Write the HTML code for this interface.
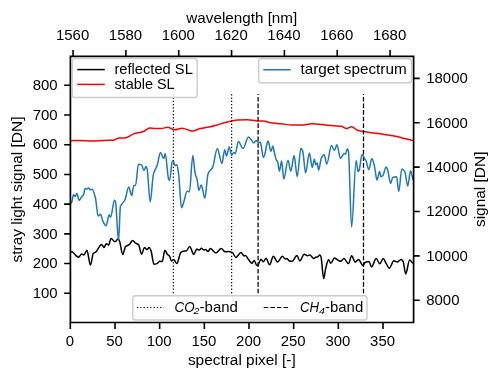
<!DOCTYPE html>
<html><head><meta charset="utf-8"><style>
html,body{margin:0;padding:0;background:#fff;width:500px;height:382px;overflow:hidden}
svg{display:block;will-change:transform}
text{font-family:"Liberation Sans", sans-serif;fill:#000}
</style></head><body>
<svg width="500" height="382" viewBox="0 0 500 382">
<rect width="500" height="382" fill="#fff"/>

<defs><clipPath id="ax"><rect x="70.0" y="55.8" width="343.7" height="266.5"/></clipPath></defs>
<g clip-path="url(#ax)" fill="none" stroke-linejoin="round" stroke-linecap="butt">
<path d="M70.70,140.70 C74.00,140.60 77.30,140.40 80.60,140.40 C84.50,140.40 88.40,141.10 92.30,141.10 C96.20,141.10 100.10,140.52 104.00,140.40 C107.00,140.30 110.00,140.33 113.00,140.20 C115.10,140.11 117.20,137.90 119.30,137.90 C121.10,137.90 122.90,138.00 124.70,138.00 C127.70,138.00 130.70,134.85 133.70,133.90 C136.70,132.95 139.70,132.70 142.70,131.70 C145.10,130.90 147.50,128.10 149.90,128.10 C151.60,128.10 153.30,128.50 155.00,128.50 C157.10,128.50 159.20,128.50 161.30,128.50 C163.40,128.50 165.50,127.30 167.60,127.30 C170.00,127.30 172.40,129.80 174.80,129.80 C177.20,129.80 179.60,128.20 182.00,128.20 C185.60,128.20 189.20,131.10 192.80,131.10 C195.20,131.10 197.60,129.03 200.00,128.50 C203.00,127.84 206.00,127.68 209.00,127.10 C211.40,126.64 213.80,125.97 216.20,125.30 C218.60,124.63 221.00,123.67 223.40,123.00 C225.80,122.33 228.20,121.70 230.60,121.20 C233.00,120.70 235.40,119.99 237.80,119.90 C240.93,119.78 244.07,119.70 247.20,119.70 C250.80,119.70 254.40,121.00 258.00,121.00 C259.80,121.00 261.60,121.00 263.40,121.00 C265.80,121.00 268.20,122.47 270.60,122.80 C274.20,123.30 277.80,123.42 281.40,123.80 C285.00,124.18 288.60,125.10 292.20,125.10 C295.20,125.10 298.20,125.10 301.20,125.10 C304.80,125.10 308.40,123.80 312.00,123.80 C314.40,123.80 316.80,124.01 319.20,124.20 C321.13,124.35 323.07,124.69 325.00,124.90 C328.00,125.23 331.00,125.56 334.00,125.80 C336.40,126.00 338.80,126.01 341.20,126.30 C343.00,126.52 344.80,128.50 346.60,128.50 C348.27,128.50 349.93,126.70 351.60,126.70 C353.53,126.70 355.47,129.70 357.40,130.30 C359.50,130.95 361.60,131.24 363.70,131.60 C367.00,132.16 370.30,132.55 373.60,133.00 C377.20,133.49 380.80,133.87 384.40,134.40 C388.60,135.02 392.80,135.72 397.00,136.60 C399.40,137.10 401.80,137.81 404.20,138.40 C407.20,139.14 410.20,139.87 413.20,140.60" stroke="#ff0000" stroke-width="1.5"/>
<path d="M70.60,251.50 C71.30,251.70 72.00,251.79 72.70,252.10 C73.70,252.54 74.70,254.49 75.70,255.30 C76.67,256.08 77.63,257.20 78.60,257.20 C79.60,257.20 80.60,253.90 81.60,253.90 C82.37,253.90 83.13,255.00 83.90,255.00 C84.90,255.00 85.90,250.30 86.90,250.30 C88.07,250.30 89.23,265.10 90.40,265.10 C91.40,265.10 92.40,254.19 93.40,253.30 C94.17,252.62 94.93,252.64 95.70,252.10 C97.67,250.72 99.63,244.40 101.60,244.40 C102.40,244.40 103.20,247.40 104.00,247.40 C104.77,247.40 105.53,243.80 106.30,243.80 C107.10,243.80 107.90,245.00 108.70,245.00 C109.47,245.00 110.23,238.50 111.00,238.50 C112.33,238.50 113.67,241.80 115.00,241.80 C116.10,241.80 117.20,238.80 118.30,238.80 C118.77,238.80 119.23,240.52 119.70,241.80 C120.70,244.54 121.70,254.50 122.70,254.50 C123.67,254.50 124.63,247.34 125.60,246.50 C126.80,245.46 128.00,245.54 129.20,244.70 C130.37,243.88 131.53,240.60 132.70,240.60 C133.67,240.60 134.63,242.58 135.60,243.20 C136.60,243.84 137.60,243.83 138.60,244.70 C139.57,245.54 140.53,254.20 141.50,254.20 C142.50,254.20 143.50,247.50 144.50,247.50 C145.27,247.50 146.03,249.50 146.80,249.50 C147.60,249.50 148.40,247.50 149.20,247.50 C149.80,247.50 150.40,249.14 151.00,250.60 C151.97,252.95 152.93,264.20 153.90,264.20 C154.90,264.20 155.90,263.92 156.90,263.60 C157.87,263.29 158.83,261.30 159.80,261.30 C160.60,261.30 161.40,261.60 162.20,261.60 C163.10,261.60 164.00,250.30 164.90,250.30 C165.70,250.30 166.50,253.24 167.30,254.20 C168.10,255.16 168.90,255.35 169.70,256.50 C170.27,257.31 170.83,260.90 171.40,260.90 C172.20,260.90 173.00,259.50 173.80,259.50 C174.77,259.50 175.73,263.60 176.70,263.60 C178.10,263.60 179.50,253.55 180.90,252.40 C181.67,251.77 182.43,251.29 183.20,251.20 C184.20,251.08 185.20,251.12 186.20,251.00 C187.37,250.86 188.53,246.50 189.70,246.50 C191.07,246.50 192.43,254.50 193.80,254.50 C194.80,254.50 195.80,249.10 196.80,249.10 C197.57,249.10 198.33,250.00 199.10,250.00 C199.90,250.00 200.70,248.30 201.50,248.30 C202.30,248.30 203.10,250.00 203.90,250.00 C204.47,250.00 205.03,249.50 205.60,249.50 C206.40,249.50 207.20,251.50 208.00,251.50 C208.77,251.50 209.53,248.60 210.30,248.60 C212.17,248.60 214.03,253.00 215.90,253.00 C217.67,253.00 219.43,248.60 221.20,248.60 C222.57,248.60 223.93,251.80 225.30,251.80 C226.30,251.80 227.30,251.50 228.30,251.50 C229.67,251.50 231.03,251.98 232.40,252.60 C233.57,253.13 234.73,257.40 235.90,257.40 C237.57,257.40 239.23,252.60 240.90,252.60 C242.00,252.60 243.10,255.90 244.20,255.90 C244.60,255.90 245.00,255.40 245.40,255.40 C246.57,255.40 247.73,258.72 248.90,260.10 C249.90,261.29 250.90,263.30 251.90,263.30 C252.67,263.30 253.43,260.40 254.20,260.40 C255.00,260.40 255.80,264.77 256.60,265.10 C257.00,265.26 257.40,265.40 257.80,265.40 C258.83,265.40 259.87,259.20 260.90,259.20 C261.70,259.20 262.50,261.80 263.30,261.80 C264.20,261.80 265.10,258.30 266.00,258.30 C267.20,258.30 268.40,264.80 269.60,264.80 C270.83,264.80 272.07,256.20 273.30,256.20 C274.70,256.20 276.10,262.10 277.50,262.10 C279.17,262.10 280.83,256.20 282.50,256.20 C283.37,256.20 284.23,258.90 285.10,258.90 C285.70,258.90 286.30,258.50 286.90,258.50 C287.70,258.50 288.50,260.70 289.30,260.90 C290.27,261.14 291.23,261.30 292.20,261.30 C293.77,261.30 295.33,255.40 296.90,255.40 C297.90,255.40 298.90,260.90 299.90,260.90 C301.33,260.90 302.77,254.20 304.20,254.20 C305.27,254.20 306.33,255.70 307.40,255.70 C308.17,255.70 308.93,255.00 309.70,255.00 C311.07,255.00 312.43,258.50 313.80,258.50 C314.60,258.50 315.40,256.90 316.20,256.90 C316.60,256.90 317.00,256.90 317.40,256.90 C318.20,256.90 319.00,255.00 319.80,255.00 C320.17,255.00 320.53,255.73 320.90,256.50 C321.83,258.47 322.77,278.60 323.70,278.60 C324.33,278.60 324.97,271.42 325.60,268.90 C326.57,265.05 327.53,259.70 328.50,259.70 C329.27,259.70 330.03,263.20 330.80,263.20 C332.00,263.20 333.20,258.10 334.40,258.10 C335.57,258.10 336.73,259.56 337.90,260.10 C338.93,260.58 339.97,261.30 341.00,261.30 C341.97,261.30 342.93,258.50 343.90,258.50 C345.47,258.50 347.03,263.60 348.60,263.60 C349.60,263.60 350.60,255.70 351.60,255.70 C352.83,255.70 354.07,262.10 355.30,262.10 C356.37,262.10 357.43,259.50 358.50,259.50 C360.03,259.50 361.57,265.60 363.10,265.60 C363.77,265.60 364.43,262.84 365.10,262.50 C366.40,261.83 367.70,261.40 369.00,261.40 C369.87,261.40 370.73,266.90 371.60,266.90 C373.13,266.90 374.67,258.60 376.20,258.60 C377.40,258.60 378.60,263.80 379.80,263.80 C380.93,263.80 382.07,258.60 383.20,258.60 C384.17,258.60 385.13,261.88 386.10,263.40 C387.17,265.08 388.23,268.20 389.30,268.20 C390.83,268.20 392.37,260.80 393.90,260.80 C395.00,260.80 396.10,262.10 397.20,262.10 C398.50,262.10 399.80,259.50 401.10,259.50 C401.77,259.50 402.43,260.37 403.10,261.40 C403.97,262.74 404.83,273.90 405.70,273.90 C407.00,273.90 408.30,260.10 409.60,260.10 C410.70,260.10 411.80,262.30 412.90,263.40" stroke="#000" stroke-width="1.5"/>
</g>
<line x1="173.4" y1="94.13" x2="173.4" y2="295.7" stroke="#000" stroke-width="1.25" stroke-dasharray="1.25 2.046"/>
<line x1="231.6" y1="94.13" x2="231.6" y2="295.7" stroke="#000" stroke-width="1.25" stroke-dasharray="1.25 2.046"/>
<line x1="258.1" y1="94.0" x2="258.1" y2="295.7" stroke="#000" stroke-width="1.25" stroke-dasharray="4.625 1.99" stroke-dashoffset="3.725"/>
<line x1="363.5" y1="94.0" x2="363.5" y2="295.7" stroke="#000" stroke-width="1.25" stroke-dasharray="4.625 1.99" stroke-dashoffset="3.725"/>
<g clip-path="url(#ax)" fill="none" stroke-linejoin="round">
<path d="M70.60,203.60 C70.97,203.17 71.33,202.95 71.70,202.30 C72.30,201.24 72.90,194.70 73.50,194.70 C74.07,194.70 74.63,196.40 75.20,196.40 C75.77,196.40 76.33,193.40 76.90,193.40 C77.63,193.40 78.37,200.30 79.10,200.30 C79.77,200.30 80.43,198.56 81.10,197.70 C81.97,196.59 82.83,196.23 83.70,194.40 C84.13,193.48 84.57,188.50 85.00,188.50 C85.67,188.50 86.33,188.90 87.00,188.90 C87.57,188.90 88.13,187.90 88.70,187.90 C89.23,187.90 89.77,189.80 90.30,189.80 C90.93,189.80 91.57,189.20 92.20,189.20 C93.30,189.20 94.40,193.91 95.50,198.30 C96.37,201.76 97.23,216.00 98.10,216.00 C98.90,216.00 99.70,214.30 100.50,214.30 C101.23,214.30 101.97,219.08 102.70,220.60 C103.80,222.88 104.90,225.80 106.00,225.80 C107.07,225.80 108.13,214.70 109.20,214.70 C109.63,214.70 110.07,217.30 110.50,217.30 C111.83,217.30 113.17,200.30 114.50,200.30 C114.80,200.30 115.10,200.93 115.40,201.60 C116.47,204.00 117.53,240.30 118.60,240.30 C119.20,240.30 119.80,208.32 120.40,206.60 C120.90,205.16 121.40,204.97 121.90,204.20 C122.97,202.56 124.03,201.68 125.10,199.50 C126.30,197.04 127.50,187.00 128.70,187.00 C129.73,187.00 130.77,195.60 131.80,195.60 C132.43,195.60 133.07,185.40 133.70,185.40 C134.33,185.40 134.97,185.40 135.60,185.40 C136.53,185.40 137.47,164.20 138.40,164.20 C139.47,164.20 140.53,164.45 141.60,164.90 C142.37,165.22 143.13,170.40 143.90,170.40 C144.60,170.40 145.30,166.50 146.00,166.50 C146.37,166.50 146.73,167.70 147.10,168.90 C148.13,172.29 149.17,201.90 150.20,201.90 C151.27,201.90 152.33,178.52 153.40,174.40 C154.70,169.37 156.00,168.83 157.30,164.90 C158.37,161.67 159.43,152.40 160.50,152.40 C161.53,152.40 162.57,158.60 163.60,158.60 C164.13,158.60 164.67,153.50 165.20,153.50 C166.37,153.50 167.53,177.61 168.70,179.40 C169.00,179.86 169.30,180.30 169.60,180.30 C170.50,180.30 171.40,161.10 172.30,161.10 C172.60,161.10 172.90,161.10 173.20,161.10 C173.83,161.10 174.47,165.60 175.10,165.60 C175.70,165.60 176.30,164.70 176.90,164.70 C177.50,164.70 178.10,170.36 178.70,174.80 C179.63,181.71 180.57,207.70 181.50,207.70 C182.20,207.70 182.90,204.41 183.60,202.50 C184.83,199.14 186.07,191.00 187.30,191.00 C188.00,191.00 188.70,192.00 189.40,192.00 C190.53,192.00 191.67,155.60 192.80,155.60 C193.60,155.60 194.40,170.60 195.20,173.90 C195.83,176.51 196.47,176.90 197.10,179.40 C197.70,181.76 198.30,190.40 198.90,190.40 C199.70,190.40 200.50,184.90 201.30,184.90 C202.50,184.90 203.70,198.20 204.90,198.20 C205.93,198.20 206.97,176.55 208.00,173.90 C209.57,169.88 211.13,170.45 212.70,167.10 C214.23,163.82 215.77,148.40 217.30,148.40 C218.83,148.40 220.37,163.50 221.90,163.50 C222.83,163.50 223.77,149.70 224.70,149.70 C225.30,149.70 225.90,156.10 226.50,156.10 C227.40,156.10 228.30,147.00 229.20,147.00 C230.00,147.00 230.80,155.20 231.60,155.20 C232.33,155.20 233.07,152.50 233.80,152.50 C234.30,152.50 234.80,153.40 235.30,153.40 C236.33,153.40 237.37,141.50 238.40,141.50 C239.93,141.50 241.47,148.40 243.00,148.40 C244.83,148.40 246.67,136.90 248.50,136.90 C250.33,136.90 252.17,142.90 254.00,142.90 C254.67,142.90 255.33,140.50 256.00,140.50 C256.50,140.50 257.00,141.25 257.50,141.70 C257.90,142.06 258.30,142.90 258.70,142.90 C259.23,142.90 259.77,142.10 260.30,142.10 C261.33,142.10 262.37,157.60 263.40,157.60 C264.07,157.60 264.73,154.49 265.40,151.90 C265.80,150.35 266.20,146.73 266.60,145.20 C267.10,143.28 267.60,140.90 268.10,140.90 C269.03,140.90 269.97,151.50 270.90,151.50 C271.57,151.50 272.23,146.00 272.90,146.00 C273.27,146.00 273.63,149.19 274.00,150.70 C274.80,153.99 275.60,158.59 276.40,160.10 C276.80,160.85 277.20,160.88 277.60,161.70 C278.20,162.93 278.80,171.20 279.40,171.20 C280.13,171.20 280.87,161.10 281.60,161.10 C282.33,161.10 283.07,179.10 283.80,179.10 C285.20,179.10 286.60,160.20 288.00,160.20 C288.93,160.20 289.87,171.20 290.80,171.20 C291.90,171.20 293.00,155.60 294.10,155.60 C295.13,155.60 296.17,176.70 297.20,176.70 C298.43,176.70 299.67,148.30 300.90,148.30 C301.50,148.30 302.10,149.63 302.70,151.10 C303.67,153.47 304.63,173.00 305.60,173.00 C306.87,173.00 308.13,152.90 309.40,152.90 C310.33,152.90 311.27,167.50 312.20,167.50 C312.93,167.50 313.67,159.30 314.40,159.30 C314.87,159.30 315.33,164.80 315.80,164.80 C316.30,164.80 316.80,163.00 317.30,163.00 C317.73,163.00 318.17,170.30 318.60,170.30 C319.50,170.30 320.40,160.24 321.30,158.40 C322.23,156.50 323.17,154.70 324.10,154.70 C325.00,154.70 325.90,163.90 326.80,163.90 C328.33,163.90 329.87,145.60 331.40,145.60 C332.43,145.60 333.47,150.50 334.50,150.50 C335.30,150.50 336.10,144.70 336.90,144.70 C338.10,144.70 339.30,158.40 340.50,158.40 C341.73,158.40 342.97,153.40 344.20,153.40 C344.63,153.40 345.07,154.20 345.50,154.20 C346.13,154.20 346.77,148.70 347.40,148.70 C347.73,148.70 348.07,149.78 348.40,151.00 C349.47,154.91 350.53,227.10 351.60,227.10 C353.10,227.10 354.60,160.50 356.10,160.50 C356.77,160.50 357.43,171.60 358.10,171.60 C358.43,171.60 358.77,170.94 359.10,170.30 C360.07,168.46 361.03,154.60 362.00,154.60 C362.87,154.60 363.73,157.30 364.60,158.60 C365.03,159.25 365.47,159.67 365.90,160.50 C366.87,162.35 367.83,169.70 368.80,169.70 C369.80,169.70 370.80,158.60 371.80,158.60 C372.70,158.60 373.60,162.98 374.50,166.40 C375.33,169.57 376.17,180.10 377.00,180.10 C377.87,180.10 378.73,171.60 379.60,171.60 C380.03,171.60 380.47,176.80 380.90,176.80 C381.57,176.80 382.23,176.17 382.90,175.50 C383.97,174.44 385.03,167.00 386.10,167.00 C386.53,167.00 386.97,168.08 387.40,169.00 C388.50,171.34 389.60,183.40 390.70,183.40 C391.37,183.40 392.03,177.75 392.70,177.50 C394.00,177.01 395.30,176.80 396.60,176.80 C397.33,176.80 398.07,191.60 398.80,191.60 C399.80,191.60 400.80,169.00 401.80,169.00 C402.80,169.00 403.80,170.12 404.80,171.60 C405.77,173.03 406.73,186.00 407.70,186.00 C408.67,186.00 409.63,170.70 410.60,170.70 C411.40,170.70 412.20,176.97 413.00,180.10" stroke="#1f77b4" stroke-width="1.5"/>
</g>
<path d="M70.4,56.4 V322.5 M413.6,56.4 V322.5 M69.55,56.4 H414.45 M69.55,322.5 H414.45" fill="none" stroke="#000" stroke-width="1.7"/>
<path d="M70.33,322.5 V328.9 M115.00,322.5 V328.9 M159.66,322.5 V328.9 M204.33,322.5 V328.9 M249.00,322.5 V328.9 M293.66,322.5 V328.9 M338.33,322.5 V328.9 M383.00,322.5 V328.9 M73.06,56.4 V50.0 M125.89,56.4 V50.0 M178.73,56.4 V50.0 M231.56,56.4 V50.0 M284.40,56.4 V50.0 M337.23,56.4 V50.0 M390.06,56.4 V50.0 M70.4,293.29 H64.1 M70.4,263.57 H64.1 M70.4,233.86 H64.1 M70.4,204.14 H64.1 M70.4,174.43 H64.1 M70.4,144.72 H64.1 M70.4,115.00 H64.1 M70.4,85.29 H64.1 M413.6,300.20 H419.7 M413.6,255.84 H419.7 M413.6,211.48 H419.7 M413.6,167.12 H419.7 M413.6,122.76 H419.7 M413.6,78.40 H419.7" stroke="#000" stroke-width="1.6" fill="none"/>
<text transform="translate(69.88,345.50) scale(1.076,1)" font-size="13.9" text-anchor="middle">0</text>
<text transform="translate(114.55,345.50) scale(1.076,1)" font-size="13.9" text-anchor="middle">50</text>
<text transform="translate(159.21,345.50) scale(1.076,1)" font-size="13.9" text-anchor="middle">100</text>
<text transform="translate(203.88,345.50) scale(1.076,1)" font-size="13.9" text-anchor="middle">150</text>
<text transform="translate(248.55,345.50) scale(1.076,1)" font-size="13.9" text-anchor="middle">200</text>
<text transform="translate(293.21,345.50) scale(1.076,1)" font-size="13.9" text-anchor="middle">250</text>
<text transform="translate(337.88,345.50) scale(1.076,1)" font-size="13.9" text-anchor="middle">300</text>
<text transform="translate(382.55,345.50) scale(1.076,1)" font-size="13.9" text-anchor="middle">350</text>
<text transform="translate(72.61,39.60) scale(1.076,1)" font-size="13.9" text-anchor="middle">1560</text>
<text transform="translate(125.44,39.60) scale(1.076,1)" font-size="13.9" text-anchor="middle">1580</text>
<text transform="translate(178.28,39.60) scale(1.076,1)" font-size="13.9" text-anchor="middle">1600</text>
<text transform="translate(231.11,39.60) scale(1.076,1)" font-size="13.9" text-anchor="middle">1620</text>
<text transform="translate(283.95,39.60) scale(1.076,1)" font-size="13.9" text-anchor="middle">1640</text>
<text transform="translate(336.78,39.60) scale(1.076,1)" font-size="13.9" text-anchor="middle">1660</text>
<text transform="translate(389.61,39.60) scale(1.076,1)" font-size="13.9" text-anchor="middle">1680</text>
<text transform="translate(57.60,298.04) scale(1.076,1)" font-size="13.9" text-anchor="end">100</text>
<text transform="translate(57.60,268.32) scale(1.076,1)" font-size="13.9" text-anchor="end">200</text>
<text transform="translate(57.60,238.61) scale(1.076,1)" font-size="13.9" text-anchor="end">300</text>
<text transform="translate(57.60,208.89) scale(1.076,1)" font-size="13.9" text-anchor="end">400</text>
<text transform="translate(57.60,179.18) scale(1.076,1)" font-size="13.9" text-anchor="end">500</text>
<text transform="translate(57.60,149.47) scale(1.076,1)" font-size="13.9" text-anchor="end">600</text>
<text transform="translate(57.60,119.75) scale(1.076,1)" font-size="13.9" text-anchor="end">700</text>
<text transform="translate(57.60,90.04) scale(1.076,1)" font-size="13.9" text-anchor="end">800</text>
<text transform="translate(426.20,305.00) scale(1.076,1)" font-size="13.9" text-anchor="start">8000</text>
<text transform="translate(426.20,260.64) scale(1.076,1)" font-size="13.9" text-anchor="start">10000</text>
<text transform="translate(426.20,216.28) scale(1.076,1)" font-size="13.9" text-anchor="start">12000</text>
<text transform="translate(426.20,171.92) scale(1.076,1)" font-size="13.9" text-anchor="start">14000</text>
<text transform="translate(426.20,127.56) scale(1.076,1)" font-size="13.9" text-anchor="start">16000</text>
<text transform="translate(426.20,83.20) scale(1.076,1)" font-size="13.9" text-anchor="start">18000</text>
<text transform="translate(241.80,23.00) scale(1.096,1)" font-size="13.9" text-anchor="middle">wavelength [nm]</text>
<text transform="translate(241.80,364.80) scale(1.108,1)" font-size="13.9" text-anchor="middle">spectral pixel [-]</text>
<text transform="translate(22.00,189.50) rotate(-90) scale(1.112,1)" font-size="13.9" text-anchor="middle">stray light signal [DN]</text>
<text transform="translate(484.60,189.30) rotate(-90) scale(1.111,1)" font-size="13.9" text-anchor="middle">signal [DN]</text>
<rect x="72.3" y="58.6" width="124.89999999999999" height="38.9" rx="2.6" ry="2.6" fill="#fff" fill-opacity="0.8" stroke="#cccccc" stroke-width="1.4"/>
<line x1="77.3" y1="69.6" x2="104.8" y2="69.6" stroke="#000" stroke-width="1.5"/>
<line x1="77.3" y1="84.4" x2="104.8" y2="84.4" stroke="#ff0000" stroke-width="1.5"/>
<text transform="translate(114.40,74.20) scale(1.058,1)" font-size="13.9" text-anchor="start">reflected SL</text>
<text transform="translate(114.40,88.90) scale(1.040,1)" font-size="13.9" text-anchor="start">stable SL</text>
<rect x="258.7" y="58.7" width="152.90000000000003" height="24.099999999999994" rx="2.6" ry="2.6" fill="#fff" fill-opacity="0.8" stroke="#cccccc" stroke-width="1.4"/>
<line x1="263.3" y1="69.75" x2="290.8" y2="69.75" stroke="#1f77b4" stroke-width="1.5"/>
<text transform="translate(300.40,74.30) scale(1.101,1)" font-size="13.9" text-anchor="start">target spectrum</text>
<rect x="132.8" y="295.8" width="234.2" height="24.19999999999999" rx="2.6" ry="2.6" fill="#fff" fill-opacity="0.8" stroke="#cccccc" stroke-width="1.4"/>
<line x1="137" y1="307.5" x2="163.8" y2="307.5" stroke="#000" stroke-width="1.1" stroke-dasharray="1.25 2.06"/>
<line x1="263.7" y1="307.5" x2="289" y2="307.5" stroke="#000" stroke-width="1.1" stroke-dasharray="4.6 2.0"/>
<text transform="translate(174.50,311.80) scale(0.960,1)" font-size="13.9" text-anchor="start" font-style="italic">CO</text>
<text transform="translate(193.50,313.60) scale(1.100,1)" font-size="9.6" text-anchor="start" font-style="italic">2</text>
<text transform="translate(199.60,311.80) scale(1.076,1)" font-size="13.9" text-anchor="start">-band</text>
<text transform="translate(299.90,311.80) scale(0.950,1)" font-size="13.9" text-anchor="start" font-style="italic">CH</text>
<text transform="translate(318.90,313.60) scale(1.100,1)" font-size="9.6" text-anchor="start" font-style="italic">4</text>
<text transform="translate(325.00,311.80) scale(1.076,1)" font-size="13.9" text-anchor="start">-band</text>
</svg></body></html>
